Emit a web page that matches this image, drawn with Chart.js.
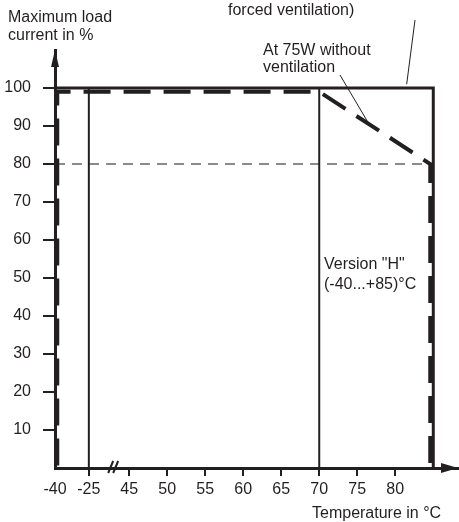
<!DOCTYPE html>
<html>
<head>
<meta charset="utf-8">
<script src="https://cdn.jsdelivr.net/npm/chart.js@4.4.1/dist/chart.umd.min.js"></script>
<style>
  html, body { margin: 0; padding: 0; background: #fff; }
  #wrap { width: 459px; height: 522px; position: relative; }
</style>
</head>
<body>
<div id="wrap"><canvas id="derating"></canvas></div>
<script>
// tick labels (x axis is broken between -25 and 45)
const xTicks = [-40, -25, 45, 50, 55, 60, 65, 70, 75, 80];
const yTicks = [10, 20, 30, 40, 50, 60, 70, 80, 90, 100];

// curve at 100W with forced ventilation (solid frame)
const forcedTemp = [-40, 85, 85];
const forcedLoad = [100, 100, 0];

// curve at 75W without ventilation (dashed)
const noVentTemp = [-39, -39, 70, 84.6, 84.6];
const noVentLoad = [0, 99, 99, 80, 0];

// version "H" limits
const limitLowTemp = [-25, -25];
const limitHighTemp = [70, 70];
const limitLoad = [100, 0];

// 80 % reference line
const refTemp = [-40, 85];
const refLoad = [80, 80];

const INK = "#231f20";
const FONT = '"Liberation Sans", Arial, sans-serif';

// map temperature onto the broken axis
function toAxis(t) {
  if (t <= -25) return (t + 40) / 15 * 0.89;
  return 1.95 + (t - 45) / 5;
}

function pts(xs, ys) {
  return xs.map((t, i) => ({ x: toAxis(t), y: ys[i] }));
}

Chart.defaults.font.family = FONT;
Chart.defaults.font.size = 16;
Chart.defaults.color = INK;

const annotations = {
  id: "annotations",
  afterDraw(chart) {
    const ctx = chart.ctx;
    const xs = chart.scales.x, ys = chart.scales.y;
    const area = chart.chartArea;
    ctx.save();
    ctx.fillStyle = INK;
    ctx.strokeStyle = INK;

    // arrow heads
    ctx.beginPath();
    ctx.moveTo(area.left, area.top);
    ctx.lineTo(area.left - 4, area.top + 17);
    ctx.lineTo(area.left + 4, area.top + 17);
    ctx.closePath();
    ctx.fill();
    ctx.beginPath();
    ctx.moveTo(area.right, area.bottom);
    ctx.lineTo(area.right - 17, area.bottom - 5);
    ctx.lineTo(area.right - 17, area.bottom + 5);
    ctx.closePath();
    ctx.fill();

    // axis break
    const bx = xs.getPixelForValue(1.53);
    ctx.lineWidth = 2;
    ctx.beginPath();
    ctx.moveTo(bx - 5, area.bottom + 5);
    ctx.lineTo(bx, area.bottom - 7);
    ctx.moveTo(bx, area.bottom + 5);
    ctx.lineTo(bx + 5, area.bottom - 7);
    ctx.stroke();

    // leader lines
    ctx.lineWidth = 1;
    ctx.beginPath();
    ctx.moveTo(340, 75);
    ctx.lineTo(xs.getPixelForValue(toAxis(76.4)), ys.getPixelForValue(91));
    ctx.moveTo(415, 20);
    ctx.lineTo(xs.getPixelForValue(toAxis(81.5)), ys.getPixelForValue(101));
    ctx.stroke();

    // texts
    ctx.font = "16px " + FONT;
    ctx.textAlign = "left";
    ctx.textBaseline = "alphabetic";
    ctx.fillText("Maximum load", 8, 21.5);
    ctx.fillText("current in %", 8, 39.5);
    ctx.fillText("forced ventilation)", 228, 15);
    ctx.fillText("At 75W without", 263, 54.5);
    ctx.fillText("ventilation", 263, 72);
    ctx.fillText('Version "H"', 324, 269);
    ctx.fillText("(-40...+85)°C", 324, 289);
    ctx.fillText("Temperature in °C", 312, 518);
    ctx.restore();
  }
};

new Chart(document.getElementById("derating"), {
  type: "line",
  data: {
    datasets: [
      {
        label: "At 100W forced ventilation",
        data: pts(forcedTemp, forcedLoad),
        borderColor: INK, borderWidth: 3, pointRadius: 0
      },
      {
        label: "At 75W without ventilation",
        data: pts(noVentTemp, noVentLoad),
        borderColor: INK, borderWidth: 4, pointRadius: 0,
        borderDash: [27, 13], borderDashOffset: 37.5
      },
      {
        label: "-25",
        data: pts(limitLowTemp, limitLoad),
        borderColor: INK, borderWidth: 2, pointRadius: 0
      },
      {
        label: "70",
        data: pts(limitHighTemp, limitLoad),
        borderColor: INK, borderWidth: 2, pointRadius: 0
      },
      {
        label: "80%",
        data: pts(refTemp, refLoad),
        borderColor: "#666", borderWidth: 1.5, pointRadius: 0,
        borderDash: [10, 7]
      }
    ]
  },
  options: {
    responsive: true,
    maintainAspectRatio: false,
    animation: false,
    devicePixelRatio: 1,
    layout: { padding: { top: 50, right: 1, left: 0, bottom: 0 } },
    plugins: { legend: { display: false }, tooltip: { enabled: false } },
    scales: {
      x: {
        type: "linear",
        min: 0,
        max: 10.6,
        afterFit: (s) => { s.height = 54; },
        afterBuildTicks: (s) => { s.ticks = xTicks.map(t => ({ value: toAxis(t) })); },
        ticks: {
          autoSkip: false, maxRotation: 0, padding: 4,
          callback: (v, i) => String(xTicks[i])
        },
        grid: {
          drawOnChartArea: false, tickLength: 8, lineWidth: 2,
          color: (c) => (c.tick && c.tick.value === 0 ? "rgba(0,0,0,0)" : INK)
        },
        border: { color: INK, width: 3 }
      },
      y: {
        min: 0,
        max: 110,
        afterFit: (s) => { s.width = 55; },
        afterBuildTicks: (s) => { s.ticks = yTicks.map(v => ({ value: v })); },
        ticks: { padding: 12, callback: (v) => String(v) },
        grid: { drawOnChartArea: false, tickLength: 12, lineWidth: 2, color: INK },
        border: { color: INK, width: 3 }
      }
    }
  },
  plugins: [annotations]
});
</script>
</body>
</html>
